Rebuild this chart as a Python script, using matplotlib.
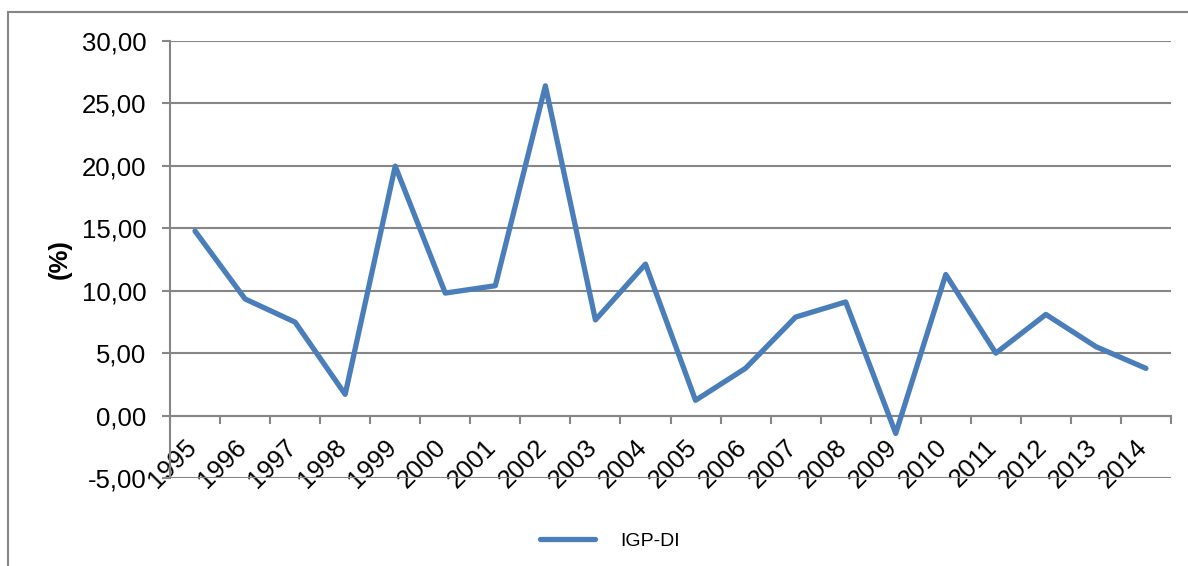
import matplotlib.pyplot as plt
import matplotlib.transforms as mtransforms
from matplotlib.patches import Rectangle

plt.rcParams['font.family'] = ['Liberation Sans', 'DejaVu Sans']

anos = ['1995', '1996', '1997', '1998', '1999', '2000', '2001', '2002', '2003', '2004',
        '2005', '2006', '2007', '2008', '2009', '2010', '2011', '2012', '2013', '2014']
igp_di = [14.78, 9.34, 7.48, 1.70, 19.98, 9.81, 10.40, 26.41, 7.66, 12.13,
          1.22, 3.79, 7.89, 9.10, -1.43, 11.30, 5.00, 8.10, 5.52, 3.78]
y_ticks = [-5, 0, 5, 10, 15, 20, 25, 30]

cinza = '#868686'
azul = '#4A7EBB'

fig = plt.figure(figsize=(11.88, 5.66), dpi=100)
ax = fig.add_axes([170 / 1188, 88 / 566, 1001 / 1188, 437 / 566])

# moldura externa do gráfico
fig.add_artist(Rectangle((8 / 1188, -0.1), 1.2, 0.1 + 1 - 12 / 566,
                         transform=fig.transFigure, fill=False,
                         edgecolor=cinza, linewidth=1.5))

x = list(range(len(anos)))
ax.plot(x, igp_di, color=azul, linewidth=3.8, solid_joinstyle='round',
        solid_capstyle='round', label='IGP-DI', zorder=3)

ax.set_xlim(-0.5, len(anos) - 0.5)
ax.set_ylim(-5, 30)

# eixo das categorias cruza no zero
ax.spines['bottom'].set_position(('data', 0))
ax.spines['bottom'].set_color(cinza)
ax.spines['bottom'].set_linewidth(1.5)
ax.spines['left'].set_color(cinza)
ax.spines['left'].set_linewidth(1.5)
ax.spines['top'].set_visible(False)
ax.spines['right'].set_visible(False)

ax.set_yticks(y_ticks)
ax.set_yticklabels([f'{v:.2f}'.replace('.', ',') for v in y_ticks], fontsize=18.5)
ax.tick_params(axis='y', length=6, width=1.5, color=cinza, pad=11)
ax.yaxis.grid(True, color=cinza, linewidth=1.5)
ax.set_axisbelow(True)

ax.set_xticks([i - 0.5 for i in range(len(anos) + 1)])
ax.set_xticklabels([])
ax.tick_params(axis='x', which='major', length=6, width=1.5, color=cinza, direction='out')
ax.set_xticks(x, minor=True)
ax.set_xticklabels(anos, minor=True, rotation=45, ha='right', va='top', fontsize=18.5)
ax.tick_params(axis='x', which='minor', length=0, pad=14)
deslocamento = mtransforms.ScaledTranslation(6 / 100, 0, fig.dpi_scale_trans)
for rotulo in ax.get_xticklabels(minor=True):
    rotulo.set_transform(rotulo.get_transform() + deslocamento)

ax.set_ylabel('(%)', fontsize=18.5, fontweight='bold')
ax.yaxis.set_label_coords(-0.098, 0.5)

ax.legend(loc='center', bbox_to_anchor=(610 / 1188, 1 - 541 / 566),
          bbox_transform=fig.transFigure, frameon=False, fontsize=14,
          handlelength=2.8, handletextpad=1.3)

fig.savefig('out.png', dpi=100)
